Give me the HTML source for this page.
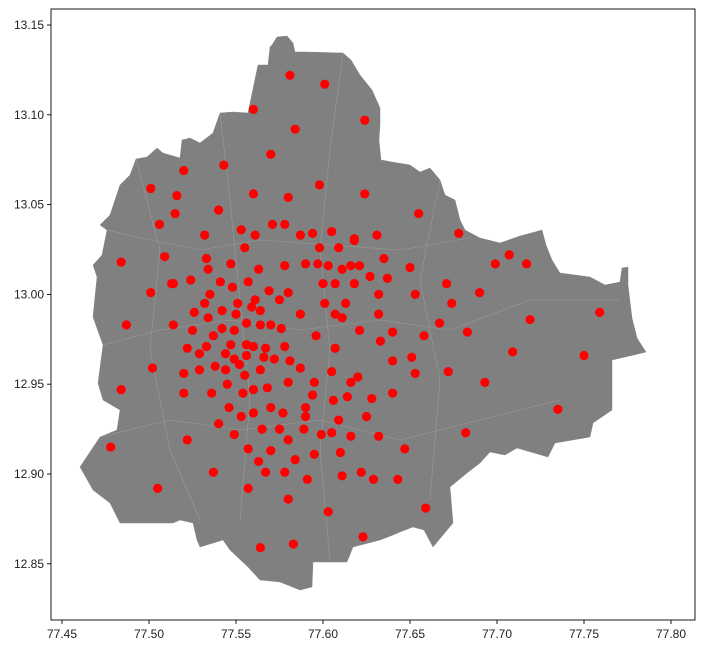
<!DOCTYPE html>
<html><head><meta charset="utf-8"><style>
html,body{margin:0;padding:0;background:#fff;}
svg{display:block;font-family:"Liberation Sans","DejaVu Sans",sans-serif;}
</style></head><body>
<svg id="chart" width="701" height="656" viewBox="0 0 701 656" xmlns="http://www.w3.org/2000/svg">
<rect x="0" y="0" width="701" height="656" fill="#fff"/>
<polygon fill="#808080" stroke="#8a8a8a" stroke-width="0.5"
points="272,45 277,37 287,36 293,43 295,52 307,52 343,53 351,60 360,75 372,90 380,108 380,125 379,140 381,160 392,162 410,165 420,172 430,168 440,180 445,195 455,200 460,220 465,230 480,238 500,243 520,236 535,232 542,230 546,245 552,260 560,273 590,277 605,285 620,282 622,268 628,267 628,285 632,318 637,338 646,352 638,354 612,360 612,410 593,423 590,437 555,443 548,457 517,448 505,455 490,452 480,463 467,473 450,487 453,523 433,547 424,530 413,527 400,532 393,535 380,540 353,547 347,562 313,562 312,587 300,590 280,582 260,580 248,567 230,550 223,540 200,547 197,540 193,523 180,520 173,523 153,523 120,523 110,503 93,490 80,467 100,437 117,430 120,410 103,400 98,383 103,345 93,317 97,277 93,265 102,255 107,230 100,225 110,215 115,200 120,185 130,175 136,159 147,157 157,148 163,153 180,158 182,140 190,138 200,143 213,133 220,113 233,112 248,113 258,65 268,65 270,47"/>
<g id="wards" fill="none" stroke="#a5a5a5" stroke-width="0.6" opacity="0.7">
<polyline points="107,230 150,240 200,250 260,240 330,245 400,250 470,238"/>
<polyline points="103,345 160,330 230,320 300,330 380,320 450,330 530,300 620,300"/>
<polyline points="100,437 170,420 240,430 320,420 400,440 480,420 560,400"/>
<polyline points="220,113 230,200 240,300 250,400 240,520"/>
<polyline points="343,53 330,150 320,250 330,350 320,450 330,560"/>
<polyline points="440,180 420,280 440,380 430,500"/>
<polyline points="136,159 160,250 150,350 170,450 200,520"/>
</g>
<g id="dots"></g>
<g id="axes"></g>
</svg>
<script>
const lon = [77.581,77.601,77.560,77.624,77.584,77.570,77.520,77.543,77.501,77.516,77.560,77.580,77.598,77.624,77.515,77.540,77.506,77.655,77.532,77.553,77.561,77.571,77.578,77.587,77.594,77.605,77.618,77.631,77.678,77.635,77.650,77.637,77.632,77.653,77.671,77.690,77.699,77.707,77.717,77.674,77.632,77.667,77.640,77.658,77.683,77.719,77.759,77.633,77.640,77.651,77.653,77.672,77.709,77.750,77.693,77.628,77.640,77.735,77.632,77.682,77.647,77.555,77.598,77.609,77.618,77.533,77.547,77.534,77.563,77.578,77.590,77.597,77.603,77.611,77.616,77.621,77.627,77.514,77.524,77.541,77.548,77.557,77.600,77.607,77.618,77.569,77.580,77.535,77.561,77.575,77.532,77.551,77.559,77.601,77.613,77.542,77.564,77.526,77.550,77.587,77.607,77.611,77.534,77.556,77.564,77.570,77.576,77.514,77.525,77.542,77.549,77.621,77.596,77.537,77.547,77.556,77.560,77.567,77.578,77.607,77.522,77.533,77.529,77.544,77.556,77.549,77.566,77.572,77.581,77.552,77.538,77.529,77.544,77.564,77.587,77.605,77.520,77.555,77.620,77.616,77.545,77.560,77.568,77.580,77.595,77.520,77.536,77.554,77.594,77.614,77.606,77.546,77.570,77.590,77.560,77.553,77.577,77.590,77.625,77.609,77.540,77.565,77.575,77.589,77.549,77.605,77.599,77.616,77.522,77.580,77.484,77.509,77.513,77.501,77.487,77.502,77.484,77.478,77.505,77.557,77.570,77.584,77.595,77.610,77.563,77.537,77.567,77.578,77.591,77.611,77.622,77.629,77.643,77.557,77.580,77.603,77.659,77.623,77.564,77.583];
const lat = [13.122,13.117,13.103,13.097,13.092,13.078,13.069,13.072,13.059,13.055,13.056,13.054,13.061,13.056,13.045,13.047,13.039,13.045,13.033,13.036,13.033,13.039,13.039,13.033,13.034,13.035,13.031,13.033,13.034,13.020,13.015,13.009,13.000,13.000,13.006,13.001,13.017,13.022,13.017,12.995,12.989,12.984,12.979,12.977,12.979,12.986,12.990,12.974,12.963,12.965,12.956,12.957,12.968,12.966,12.951,12.942,12.945,12.936,12.921,12.923,12.914,13.026,13.026,13.026,13.030,13.020,13.017,13.014,13.014,13.016,13.017,13.017,13.016,13.014,13.016,13.016,13.010,13.006,13.008,13.007,13.004,13.007,13.006,13.006,13.006,13.002,13.001,13.000,12.997,12.997,12.995,12.995,12.993,12.995,12.995,12.991,12.991,12.990,12.989,12.989,12.989,12.987,12.987,12.984,12.983,12.983,12.981,12.983,12.980,12.981,12.980,12.980,12.977,12.977,12.972,12.972,12.971,12.970,12.971,12.970,12.970,12.971,12.967,12.967,12.966,12.964,12.965,12.964,12.963,12.961,12.960,12.958,12.958,12.958,12.959,12.957,12.956,12.955,12.954,12.951,12.950,12.947,12.948,12.951,12.951,12.945,12.945,12.945,12.944,12.943,12.941,12.937,12.937,12.937,12.934,12.932,12.934,12.932,12.932,12.930,12.928,12.925,12.925,12.925,12.922,12.923,12.922,12.921,12.919,12.919,13.018,13.021,13.006,13.001,12.983,12.959,12.947,12.915,12.892,12.914,12.913,12.908,12.911,12.912,12.907,12.901,12.901,12.901,12.897,12.899,12.901,12.897,12.897,12.892,12.886,12.879,12.881,12.865,12.859,12.861];
const xTicks = [77.45,77.50,77.55,77.60,77.65,77.70,77.75,77.80];
const xTickLabels = ["77.45","77.50","77.55","77.60","77.65","77.70","77.75","77.80"];
const yTicks = [12.85,12.90,12.95,13.00,13.05,13.10,13.15];
const yTickLabels = ["12.85","12.90","12.95","13.00","13.05","13.10","13.15"];

const NS = "http://www.w3.org/2000/svg";
function sx(v){ return 62 + (v - 77.45) * 1740; }
function sy(v){ return 25 + (13.15 - v) * 1796; }
const L=51, T=9, R=695, B=620;

const dots = document.getElementById('dots');
for (let i = 0; i < lon.length; i++) {
  const c = document.createElementNS(NS, 'circle');
  c.setAttribute('cx', sx(lon[i]));
  c.setAttribute('cy', sy(lat[i]));
  c.setAttribute('r', 4.6);
  c.setAttribute('fill', '#ff0000');
  
  
  dots.appendChild(c);
}

const axes = document.getElementById('axes');
const frame = document.createElementNS(NS, 'rect');
frame.setAttribute('x', L); frame.setAttribute('y', T);
frame.setAttribute('width', R - L); frame.setAttribute('height', B - T);
frame.setAttribute('fill', 'none'); frame.setAttribute('stroke', '#000'); frame.setAttribute('stroke-width', '0.9');


axes.appendChild(frame);

for (let i = 0; i < xTicks.length; i++) {
  const x = sx(xTicks[i]);
  const t = document.createElementNS(NS, 'line');
  t.setAttribute('x1', x); t.setAttribute('x2', x); t.setAttribute('y1', B); t.setAttribute('y2', B + 4);
  t.setAttribute('stroke', '#000'); t.setAttribute('stroke-width', '0.9');
  
  
  axes.appendChild(t);
  const tx = document.createElementNS(NS, 'text');
  tx.setAttribute('x', x); tx.setAttribute('y', B + 18);
  tx.setAttribute('text-anchor', 'middle'); tx.setAttribute('font-size', '12'); tx.setAttribute('fill', '#222');
  tx.textContent = xTickLabels[i];
  
  
  axes.appendChild(tx);
}
for (let i = 0; i < yTicks.length; i++) {
  const y = sy(yTicks[i]);
  const t = document.createElementNS(NS, 'line');
  t.setAttribute('x1', L - 4); t.setAttribute('x2', L); t.setAttribute('y1', y); t.setAttribute('y2', y);
  t.setAttribute('stroke', '#000'); t.setAttribute('stroke-width', '0.9');
  
  
  axes.appendChild(t);
  const tx = document.createElementNS(NS, 'text');
  tx.setAttribute('x', L - 7); tx.setAttribute('y', y + 4);
  tx.setAttribute('text-anchor', 'end'); tx.setAttribute('font-size', '12'); tx.setAttribute('fill', '#222');
  tx.textContent = yTickLabels[i];
  
  
  axes.appendChild(tx);
}
</script>
</body></html>
